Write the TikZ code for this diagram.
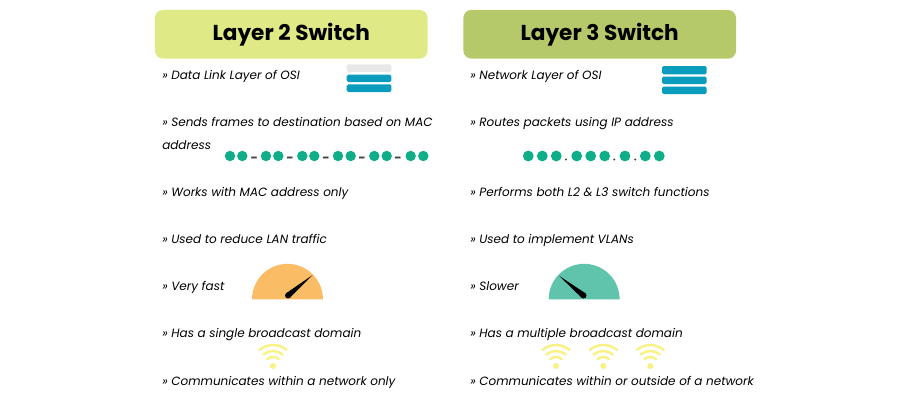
\documentclass[tikz,border=0pt]{standalone}
\usepackage{fontspec}
\usepackage{xcolor}
\usetikzlibrary{calc}
\setmainfont{Poppins}
\definecolor{headlight}{HTML}{DFE986}
\definecolor{headdark}{HTML}{B5C96B}
\definecolor{stackblue}{HTML}{0A9CBC}
\definecolor{stackgray}{HTML}{E8E8E8}
\definecolor{dotgreen}{HTML}{0FAE88}
\definecolor{gaugeorange}{HTML}{FBBC66}
\definecolor{gaugeteal}{HTML}{60C3AB}
\definecolor{wifiyellow}{HTML}{F8F184}
\tikzset{
    headbox/.style={rounded corners=6pt, minimum width=204.5pt, minimum height=36.5pt, inner sep=0pt, font=\fontsize{16.2pt}{20pt}\selectfont\bfseries},
    rowtext/.style={anchor=base west, inner sep=0pt, font=\fontsize{9pt}{12pt}\selectfont\itshape},
    sepmark/.style={inner sep=0pt, text=black!75, font=\fontsize{9.6pt}{12pt}\selectfont\bfseries},
    wifiarc/.style={wifiyellow, line width=1.8pt, line cap=round}
}
% Bar of a layer stack
\newcommand{\stackbar}[4]{\fill[#4, rounded corners=1.2pt] (#1, #2) rectangle (#1 + 44.7, #3);}
% Wifi sign over a dot at (x, y)
\newcommand{\wifisign}[2]{
    \fill[wifiyellow] (#1, #2) circle (3);
    \foreach \r in {9, 15, 21} {
        \draw[wifiarc] ({#1 + \r * cos(130)}, {#2 - \r * sin(130)}) arc[start angle=130, end angle=50, radius=\r * 0.75pt];
    }
}
\begin{document}
\begin{tikzpicture}[x=0.75pt, y=-0.75pt]
    \useasboundingbox (0, 0) rectangle (900, 400);

    % Column headers
    \node[headbox, fill=headlight] (head2) at (291.3, 34.3) {Layer 2 Switch};
    \node[headbox, fill=headdark] (head3) at (599.7, 34.3) {Layer 3 Switch};

    % Left column rows
    \foreach[count=\i] \ypos/\rowlabel in {
        79.5/» Data Link Layer of OSI,
        126.5/» Sends frames to destination based on MAC,
        149.5/address,
        196.5/» Works with MAC address only,
        243.5/» Used to reduce LAN traffic,
        290.5/» Very fast,
        337.5/» Has a single broadcast domain,
        385/» Communicates within a network only}{
        \node[rowtext] (left\i) at (162, \ypos) {\rowlabel};
    }

    % Right column rows
    \foreach[count=\i] \ypos/\rowlabel in {
        79.5/» Network Layer of OSI,
        126.5/» Routes packets using IP address,
        196.5/» Performs both L2 \& L3 switch functions,
        243.5/» Used to implement VLANs,
        290.5/» Slower,
        337.5/» Has a multiple broadcast domain,
        385/» Communicates within or outside of a network}{
        \node[rowtext] (right\i) at (470, \ypos) {\rowlabel};
    }

    % Layer stacks
    \stackbar{346.7}{64.3}{72}{stackgray}
    \stackbar{346.7}{74.7}{82}{stackblue}
    \stackbar{346.7}{84.3}{92}{stackblue}
    \foreach \ytop/\ybot in {66/74.3, 76.5/84, 86.5/94} {
        \stackbar{662}{\ytop}{\ybot}{stackblue}
    }

    % MAC address dots
    \foreach \x in {230, 242.3, 266, 278.3, 302.3, 314.3, 338, 350.7, 374.3, 386.7, 410.7, 423.3} {
        \fill[dotgreen] (\x, 156) circle (5.2);
    }
    \foreach \x in {254.3, 290, 326, 362, 398} {
        \node[sepmark] at (\x, 159.5) {-};
    }

    % IP address dots
    \foreach \x in {528.3, 542.3, 556.3, 576.7, 590.7, 604.7, 625, 645.3, 659.3} {
        \fill[dotgreen] (\x, 156) circle (5.4);
    }
    \foreach \x in {566, 614.3, 635.3} {
        \fill[black!70] (\x, 159.5) circle (1.1);
    }

    % Speed gauges
    \fill[gaugeorange] (252, 299.3) arc[start angle=180, end angle=0, radius=26.6pt] -- cycle;
    \fill[gaugeteal] (548.7, 299.3) arc[start angle=180, end angle=0, radius=26.6pt] -- cycle;
    \foreach \px/\tx/\ty in {288/312.7/275, 583.5/559/275.7} {
        \coordinate (pivot) at (\px, 295.5);
        \coordinate (tip) at (\tx, \ty);
        \fill[black] (tip) -- ($(pivot)!2.2pt!90:(tip)$) -- ($(pivot)!2.2pt!-90:(tip)$) -- cycle;
        \fill[black] (pivot) circle (3);
    }

    % Wifi signs
    \wifisign{273}{366}
    \foreach \x in {556, 603.3, 650.3} {
        \wifisign{\x}{366}
    }
\end{tikzpicture}
\end{document}
